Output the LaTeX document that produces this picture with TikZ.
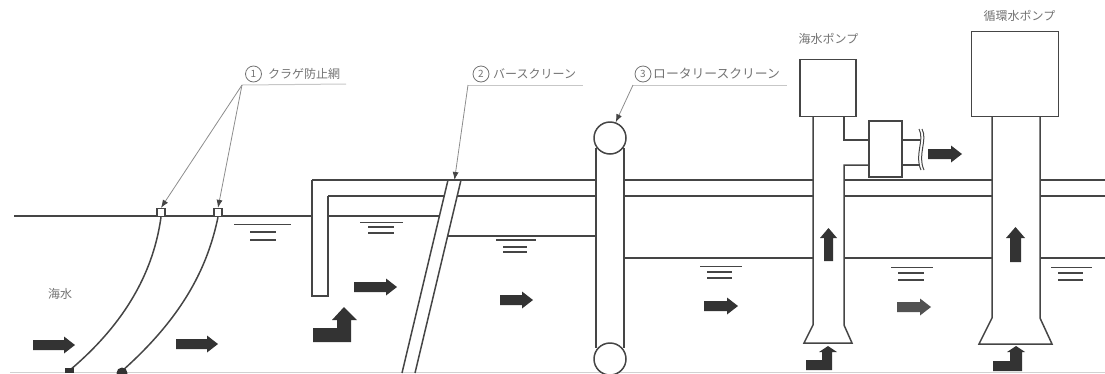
\documentclass[tikz,border=0pt]{standalone}
\usepackage{fontspec}
\setmainfont{Noto Sans CJK JP}
\usetikzlibrary{arrows.meta}
\definecolor{ln}{gray}{0.27}
\definecolor{blk}{gray}{0.2}
\definecolor{lead}{gray}{0.55}
\definecolor{txt}{gray}{0.45}
\tikzset{
  wall/.style={draw=ln,line width=1.5pt},
  level/.style={draw=ln,line width=1.4pt},
  leadline/.style={draw=lead,line width=0.8pt},
  leadtip/.style={leadline,-{Latex[length=8pt,width=6pt,color=ln]}},
  under/.style={draw=black!22,line width=1pt},
  lab/.style={text=txt,font=\fontsize{12}{14}\selectfont,inner sep=0pt,anchor=west},
  widelab/.style={lab,font=\fontsize{12.8}{14}\selectfont},
  num/.style={circle,draw=txt,line width=0.8pt,inner sep=0pt,minimum size=16pt,text=txt,font=\fontsize{10}{11}\selectfont},
  netbox/.style={draw=ln,line width=1.3pt,minimum size=8pt,inner sep=0pt,fill=white},
  drum/.style={circle,draw=ln,line width=1.5pt,fill=white,minimum size=32pt,inner sep=0pt},
  housing/.style={draw=ln,line width=1.5pt,inner sep=0pt,fill=white},
  arrowfill/.style={fill=blk,draw=none}
}
% right-pointing block arrow from (#1,#2), length #3
\newcommand{\rarrow}[4][blk]{\fill[#1] (#2,#3-5)--(#2+#4-11,#3-5)--(#2+#4-11,#3-8.5)--(#2+#4,#3)--(#2+#4-11,#3+8.5)--(#2+#4-11,#3+5)--(#2,#3+5)--cycle;}
\begin{document}
\begin{tikzpicture}[x=1pt,y=-1pt]
\useasboundingbox (0,0) rectangle (1105,373);
% bottom faint line
\draw[black!18,line width=1.2pt] (10,372.3)--(1105,372.3);
% water surfaces
\draw[level] (14,216)--(312,216);
\draw[level] (328,216)--(439,216);
\draw[level] (448,236)--(596,236);
\draw[level] (624,258)--(813,258);
\draw[level] (844,258)--(992,258);
\draw[level] (1040,258)--(1105,258);
% deck
\draw[wall] (312,180)--(448,180);
\draw[wall] (328,196)--(445,196);
\draw[wall] (461,180)--(596,180);
\draw[wall] (458,196)--(596,196);
\draw[wall] (624,180)--(813,180);
\draw[wall] (624,196)--(813,196);
\draw[wall] (844,180)--(992,180);
\draw[wall] (844,196)--(992,196);
\draw[wall] (1040,180)--(1105,180);
\draw[wall] (1040,196)--(1105,196);
% curtain wall
\draw[wall] (312,180)--(312,296)--(328,296)--(328,196);
% jellyfish nets
\node[netbox] (netA) at (161,212.5) {};
\node[netbox] (netB) at (218,212.5) {};
\coordinate (anchorA) at (70,370);
\coordinate (anchorB) at (122,371);
\draw[wall] (netA.south) .. controls (155,260) and (135,315) .. (anchorA);
\draw[wall] (netB.south) .. controls (208,265) and (185,315) .. (anchorB);
\fill[blk] (65,368) rectangle (74,373);
\fill[blk] (122,373) circle (5.5);
% bar screen
\draw[wall] (448,180)--(402,373);
\draw[wall] (461,180)--(415,373);
\draw[wall] (448,180)--(461,180);
% rotary screen
\draw[wall] (596,148)--(596,348);
\draw[wall] (624,148)--(624,348);
\node[drum] (drumT) at (610,138) {};
\begin{scope}
\clip (0,0) rectangle (1105,373);
\node[drum] (drumB) at (610,359) {};
\end{scope}
% first pump
\draw[wall] (813,117)--(813,325)--(804,343)--(852,343)--(844,325)--(844,165)--(869,165);
\draw[wall] (844,117)--(844,140)--(869,140);
\node[housing,minimum width=56pt,minimum height=57pt] (pumpA) at (828,88) {};
% casing on the discharge
\node[housing,minimum width=33pt,minimum height=56pt] (casing) at (885.5,149) {};
\draw[wall] (casing.east |- 0,140)--(920,140);
\draw[wall] (casing.east |- 0,165)--(920,165);
\draw[line width=1pt,draw=ln] (919,129) .. controls (925,140) and (914,155) .. (921,170);
\draw[line width=1pt,draw=ln] (922,129) .. controls (928,140) and (917,155) .. (924,170);
% second pump
\draw[wall] (992,117)--(992,318)--(979,344)--(1052,344)--(1040,318)--(1040,117);
\node[housing,minimum width=87pt,minimum height=85pt] (pumpB) at (1015,74) {};
% water level marks
\draw[level] (234,224.5)--(291,224.5); \draw[level] (250,232)--(276,232); \draw[level] (250,240)--(276,240);
\draw[level,line width=0.9pt] (360,222)--(403,222); \draw[level] (368,227)--(394,227); \draw[level] (368,233)--(394,233);
\draw[level] (496,240)--(536,240); \draw[level] (503,247)--(527,247); \draw[level] (503,252)--(527,252);
\draw[level,line width=0.9pt] (700,266)--(742,266); \draw[level] (707,272)--(732,272); \draw[level] (707,278)--(732,278);
\draw[level,line width=0.9pt] (891,267)--(933,267); \draw[level] (898,273)--(924,273); \draw[level] (898,280)--(924,280);
\draw[level,line width=0.9pt] (1051,267)--(1092,267); \draw[level] (1058,273)--(1083,273); \draw[level] (1058,280)--(1083,280);
% flow arrows
\rarrow{33}{345}{42}
\rarrow{176}{344}{42}
\rarrow{354}{287}{43}
\rarrow{500}{300}{33}
\rarrow{704}{306}{34}
\rarrow{928}{154}{34}
\rarrow[black!68]{897}{307}{34}
% bent arrows
\fill[arrowfill] (313,342)--(313,328)--(337,328)--(337,320)--(332,320)--(344,307)--(357,320)--(351,320)--(351,342)--cycle;
\fill[arrowfill] (806,370)--(806,360)--(822,360)--(822,352)--(819,352)--(828,346)--(837,352)--(832,352)--(832,370)--cycle;
\fill[arrowfill] (993,371)--(993,361)--(1010,361)--(1010,352)--(1007,352)--(1016,346)--(1025,352)--(1022,352)--(1022,371)--cycle;
% up arrows
\fill[arrowfill] (824,261)--(824,238)--(820,238)--(828.5,228)--(837,238)--(833,238)--(833,261)--cycle;
\fill[arrowfill] (1010,262)--(1010,238)--(1006,238)--(1015.5,227)--(1025,238)--(1021,238)--(1021,262)--cycle;
% labels
\node[lab,anchor=center] (sea) at (60,294) {海水};
\node[num] (nA) at (253.5,74) {1};
\node[lab] (lbA) at (268,74) {クラゲ防止網};
\coordinate (ldA) at (242,85);
\coordinate (ldAe) at (346,84);
\draw[under] (ldA)--(ldAe);
\node[num] (nB) at (481,74) {2};
\node[lab] (lbB) at (493,74) {バースクリーン};
\coordinate (ldB) at (468,85);
\coordinate (ldBe) at (583,85);
\draw[under] (ldB)--(ldBe);
\node[num] (nC) at (643,74) {3};
\node[widelab] (lbC) at (653,74) {ロータリースクリーン};
\coordinate (ldC) at (633,85);
\coordinate (ldCe) at (787,85);
\draw[under] (ldC)--(ldCe);
\coordinate (barTop) at (454.5,180);
\draw[leadtip] (ldA)--(netA.north);
\draw[leadtip] (ldA)--(netB.north);
\draw[leadtip] (ldB)--(barTop);
\draw[leadtip] (ldC)--(drumT.70);
\node[lab,anchor=center] (pumpAlab) at (828.5,39) {海水ポンプ};
\node[lab,anchor=center] (pumpBlab) at (1019.5,16) {循環水ポンプ};
\end{tikzpicture}
\end{document}
